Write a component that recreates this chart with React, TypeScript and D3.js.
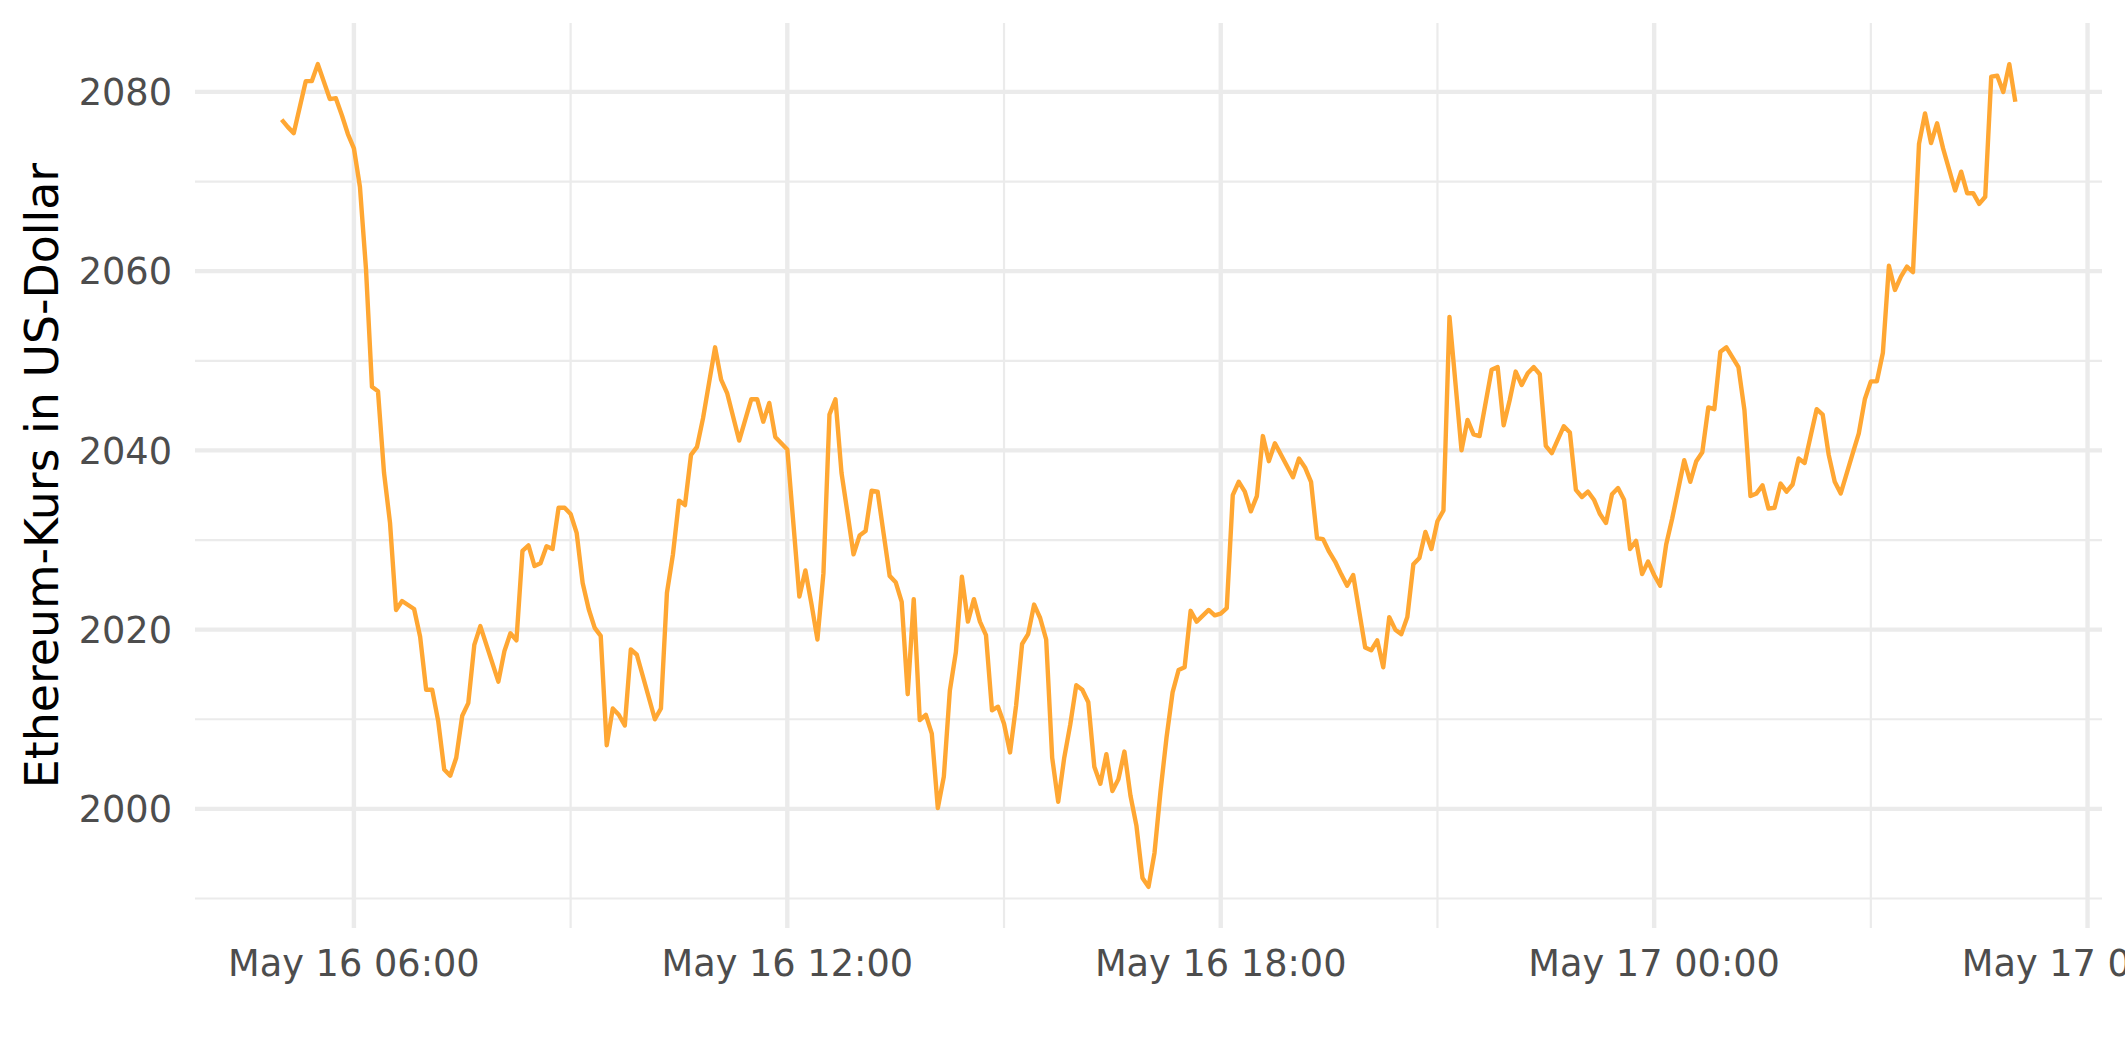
import React from "react";
import * as d3 from "d3";

// ---- data (5-minute steps after 16 May 05:00 UTC) ----
const seriesStartUTC = Date.UTC(2022, 4, 16, 5, 0);
const stepMinutes = 5;
const steps = [
  0, 1, 2, 4, 5, 6, 8, 9, 10, 11, 12, 13, 14, 15, 16, 17, 18, 19, 20, 22, 23, 24, 25,
  26, 27, 28, 29, 30, 31, 32, 33, 36, 37, 38, 39, 40, 41, 42, 43, 44, 45, 46, 47, 48, 49,
  50, 51, 52, 53, 54, 55, 56, 57, 58, 59, 62, 63, 64, 65, 66, 67, 68, 69, 70, 72, 73, 74,
  76, 78, 79, 80, 81, 82, 84, 86, 87, 88, 89, 90, 91, 92, 93, 94, 95, 96, 97, 98, 99, 100,
  101, 102, 103, 104, 105, 106, 107, 108, 109, 110, 111, 112, 113, 114, 115, 116, 117, 118,
  119, 120, 121, 122, 123, 124, 125, 126, 127, 128, 129, 130, 131, 132, 133, 134, 135, 136,
  137, 138, 139, 140, 141, 142, 143, 144, 145, 146, 147, 148, 149, 150, 151, 152, 154, 155,
  156, 157, 158, 159, 160, 161, 162, 163, 164, 165, 168, 169, 170, 171, 172, 173, 174, 175,
  176, 177, 178, 180, 181, 182, 183, 184, 185, 186, 187, 188, 189, 190, 191, 192, 193, 194,
  196, 197, 198, 199, 201, 202, 203, 204, 205, 206, 207, 208, 209, 210, 211, 213, 214, 215,
  216, 217, 218, 219, 220, 221, 222, 223, 224, 225, 226, 227, 228, 229, 230, 231, 233, 234,
  235, 236, 237, 238, 239, 240, 242, 243, 244, 245, 246, 247, 248, 249, 250, 251, 252, 253,
  254, 255, 256, 257, 258, 259, 261, 262, 263, 264, 265, 266, 267, 268, 269, 270, 271, 272,
  273, 274, 275, 276, 278, 279, 280, 281, 282, 283, 284, 285, 286, 287, 288,
];
const prices = [
  2076.9, 2076.1, 2075.4, 2081.2, 2081.2, 2083.1, 2079.2, 2079.3, 2077.4, 2075.3, 2073.7, 2069.4, 2060.3, 2047.1, 2046.6, 2037.5, 2031.9, 2022.2, 2023.2, 2022.3, 2019.2, 2013.3, 2013.3,
  2009.8, 2004.4, 2003.7, 2005.7, 2010.4, 2011.8, 2018.3, 2020.4, 2014.2, 2017.6, 2019.6, 2018.8, 2028.8, 2029.4, 2027.1, 2027.4, 2029.3, 2029.0, 2033.6, 2033.6, 2032.9, 2030.8,
  2025.2, 2022.3, 2020.2, 2019.3, 2007.1, 2011.2, 2010.5, 2009.3, 2017.8, 2017.2, 2010.0, 2011.2, 2024.1, 2028.4, 2034.4, 2033.9, 2039.5, 2040.4, 2043.6, 2051.5, 2047.9, 2046.4,
  2041.1, 2045.7, 2045.7, 2043.2, 2045.3, 2041.5, 2040.1, 2023.7, 2026.6, 2022.9, 2018.9, 2026.3, 2044.0, 2045.7, 2037.5, 2033.0, 2028.4, 2030.5, 2031.0, 2035.5, 2035.4, 2030.7,
  2026.0, 2025.3, 2023.1, 2012.8, 2023.4, 2009.9, 2010.5, 2008.4, 2000.1, 2003.6, 2013.2, 2017.5, 2025.9, 2020.9, 2023.4, 2020.9, 2019.4, 2011.0,
  2011.4, 2009.5, 2006.3, 2011.5, 2018.4, 2019.5, 2022.8, 2021.3, 2018.9, 2005.7, 2000.8, 2005.7, 2009.4, 2013.8, 2013.3, 2011.9, 2004.7, 2002.8,
  2006.1, 2002.0, 2003.3, 2006.4, 2001.5, 1998.1, 1992.3, 1991.3, 1995.1, 2002.0, 2008.0, 2013.0, 2015.5, 2015.8, 2022.1, 2020.9, 2022.2, 2021.6,
  2021.8, 2022.4, 2035.0, 2036.5, 2035.4, 2033.2, 2034.9, 2041.6, 2038.8, 2040.8, 2037.0, 2039.1, 2038.1, 2036.5, 2030.2, 2030.1, 2028.7, 2027.6,
  2026.2, 2024.9, 2026.1, 2018.0, 2017.7, 2018.8, 2015.8, 2021.4, 2020.0, 2019.5, 2021.4, 2027.3, 2028.0, 2030.9, 2029.0, 2032.1, 2033.3, 2054.9,
  2040.0, 2043.4, 2041.8, 2041.6, 2049.0, 2049.3, 2042.8, 2045.6, 2048.8, 2047.3, 2048.6, 2049.3, 2048.5, 2040.5, 2039.7, 2042.7, 2042.0, 2035.6,
  2034.8, 2035.4, 2034.5, 2032.9, 2031.9, 2035.1, 2035.8, 2034.5, 2029.0, 2029.9, 2026.2, 2027.6, 2026.1, 2024.9, 2029.5, 2032.4, 2038.9, 2036.5,
  2038.8, 2039.8, 2044.8, 2044.6, 2051.0, 2051.5, 2049.3, 2044.5, 2034.9, 2035.2, 2036.1, 2033.5, 2033.6, 2036.3, 2035.4, 2036.2, 2039.1, 2038.6,
  2041.6, 2044.6, 2044.0, 2039.5, 2036.5, 2035.2, 2039.7, 2041.9, 2045.7, 2047.7, 2047.7, 2050.9, 2060.6, 2057.9, 2059.4, 2060.5, 2059.9, 2074.2,
  2077.6, 2074.3, 2076.5, 2073.7, 2069.0, 2071.1, 2068.7, 2068.7, 2067.5, 2068.3, 2081.7, 2081.8, 2080.0, 2083.1, 2078.9,
];

const xMajorHours = [6, 12, 18, 24, 30]; // hours after 16 May 00:00 UTC
const xMinorHours = [9, 15, 21, 27];
const yMajorTicks = [2000, 2020, 2040, 2060, 2080];
const yMinorTicks = [1990, 2010, 2030, 2050, 2070];
const yTitle = "Ethereum-Kurs in US-Dollar";

// ---- layout ----
const W = 2125;
const H = 1062;
const panel = { left: 195, right: 2102, top: 23, bottom: 928 };
const FONT = "'DejaVu Sans', Verdana, sans-serif";

const dayStart = Date.UTC(2022, 4, 16, 0, 0);
const hourMs = 3600 * 1000;

type Pt = { t: Date; v: number };
const data: Pt[] = steps.map((s, i) => ({
  t: new Date(seriesStartUTC + s * stepMinutes * 60000),
  v: prices[i],
}));

export default function App() {
  const tExt = d3.extent(data, (d) => d.t.getTime()) as [number, number];
  const tPad = (tExt[1] - tExt[0]) * 0.05;
  const x = d3
    .scaleUtc()
    .domain([new Date(tExt[0] - tPad), new Date(tExt[1] + tPad)])
    .range([panel.left, panel.right]);

  const vExt = d3.extent(data, (d) => d.v) as [number, number];
  const vPad = (vExt[1] - vExt[0]) * 0.05;
  const y = d3
    .scaleLinear()
    .domain([vExt[0] - vPad, vExt[1] + vPad])
    .range([panel.bottom, panel.top]);

  const line = d3
    .line<Pt>()
    .x((d) => x(d.t))
    .y((d) => y(d.v));

  const fmt = d3.utcFormat("%b %d %H:%M");
  const majorDates = xMajorHours.map((h) => new Date(dayStart + h * hourMs));
  const minorDates = xMinorHours.map((h) => new Date(dayStart + h * hourMs));

  const majorW = 4.4;
  const minorW = 2.2;
  const grid = "#EBEBEB";
  const cy = (panel.top + panel.bottom) / 2;

  return (
    <div style={{ position: "fixed", left: 0, top: 0, width: W, height: H, overflow: "hidden", background: "#fff" }}>
      <svg width={W} height={H} style={{ display: "block" }}>
        <rect x={0} y={0} width={W} height={H} fill="#fff" />
        {yMinorTicks.map((v) => (
          <line key={"ym" + v} x1={panel.left} x2={panel.right} y1={y(v)} y2={y(v)} stroke={grid} strokeWidth={minorW} />
        ))}
        {minorDates.map((d, i) => (
          <line key={"xm" + i} x1={x(d)} x2={x(d)} y1={panel.top} y2={panel.bottom} stroke={grid} strokeWidth={minorW} />
        ))}
        {yMajorTicks.map((v) => (
          <line key={"yM" + v} x1={panel.left} x2={panel.right} y1={y(v)} y2={y(v)} stroke={grid} strokeWidth={majorW} />
        ))}
        {majorDates.map((d, i) => (
          <line key={"xM" + i} x1={x(d)} x2={x(d)} y1={panel.top} y2={panel.bottom} stroke={grid} strokeWidth={majorW} />
        ))}
        <path d={line(data) || ""} fill="none" stroke="#FFA733" strokeWidth={4.4} strokeLinejoin="round" strokeLinecap="butt" />
        {yMajorTicks.map((v) => (
          <text key={"yl" + v} x={172} y={y(v)} dy="0.36em" textAnchor="end" fontFamily={FONT} fontSize={36.7} fill="#4D4D4D">
            {v}
          </text>
        ))}
        {majorDates.map((d, i) => (
          <text key={"xl" + i} x={x(d)} y={976} textAnchor="middle" fontFamily={FONT} fontSize={36.7} fill="#4D4D4D">
            {fmt(d)}
          </text>
        ))}
        <text transform={`translate(58, ${cy}) rotate(-90)`} textAnchor="middle" fontFamily={FONT} fontSize={45.8} fill="#000">
          {yTitle}
        </text>
      </svg>
    </div>
  );
}
